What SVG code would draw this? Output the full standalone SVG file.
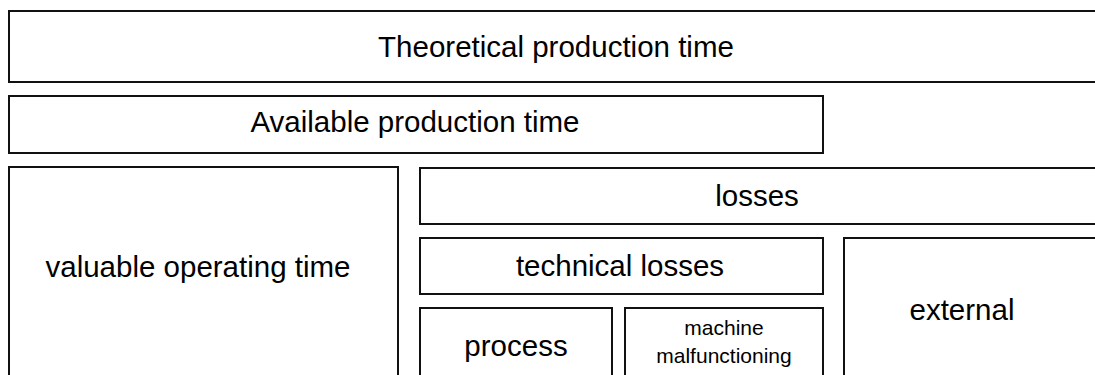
<svg xmlns="http://www.w3.org/2000/svg" width="1095" height="375" viewBox="0 0 1095 375">
<style>
.box{fill:#fff;stroke:#111;stroke-width:2}
.t{font-family:"Liberation Sans",Arial,sans-serif;font-size:29.5px;fill:#000;text-anchor:middle}
.s{font-family:"Liberation Sans",Arial,sans-serif;font-size:21px;fill:#000;text-anchor:middle}
</style>
<rect width="1095" height="375" fill="#fff"/>
<g id="theoretical"><rect class="box" x="9" y="11" width="1100" height="71"/><text class="t" x="556" y="57">Theoretical production time</text></g>
<g id="available"><rect class="box" x="9" y="96" width="814" height="57"/><text class="t" x="415" y="132">Available production time</text></g>
<g id="valuable"><rect class="box" x="9" y="167" width="389" height="220"/><text class="t" x="198" y="277">valuable operating time</text></g>
<g id="losses"><rect class="box" x="420" y="168" width="690" height="56"/><text class="t" x="757" y="206">losses</text></g>
<g id="technical"><rect class="box" x="420" y="238" width="403" height="56"/><text class="t" x="620" y="276">technical losses</text></g>
<g id="process"><rect class="box" x="420" y="308" width="192" height="80"/><text class="t" x="516" y="356">process</text></g>
<g id="machine"><rect class="box" x="625" y="308" width="198" height="80"/><text class="s" x="724" y="335">machine</text><text class="s" x="724" y="363">malfunctioning</text></g>
<g id="external"><rect class="box" x="844" y="238" width="260" height="150"/><text class="t" x="962" y="320">external</text></g>
<g id="connectors"></g>
</svg>
